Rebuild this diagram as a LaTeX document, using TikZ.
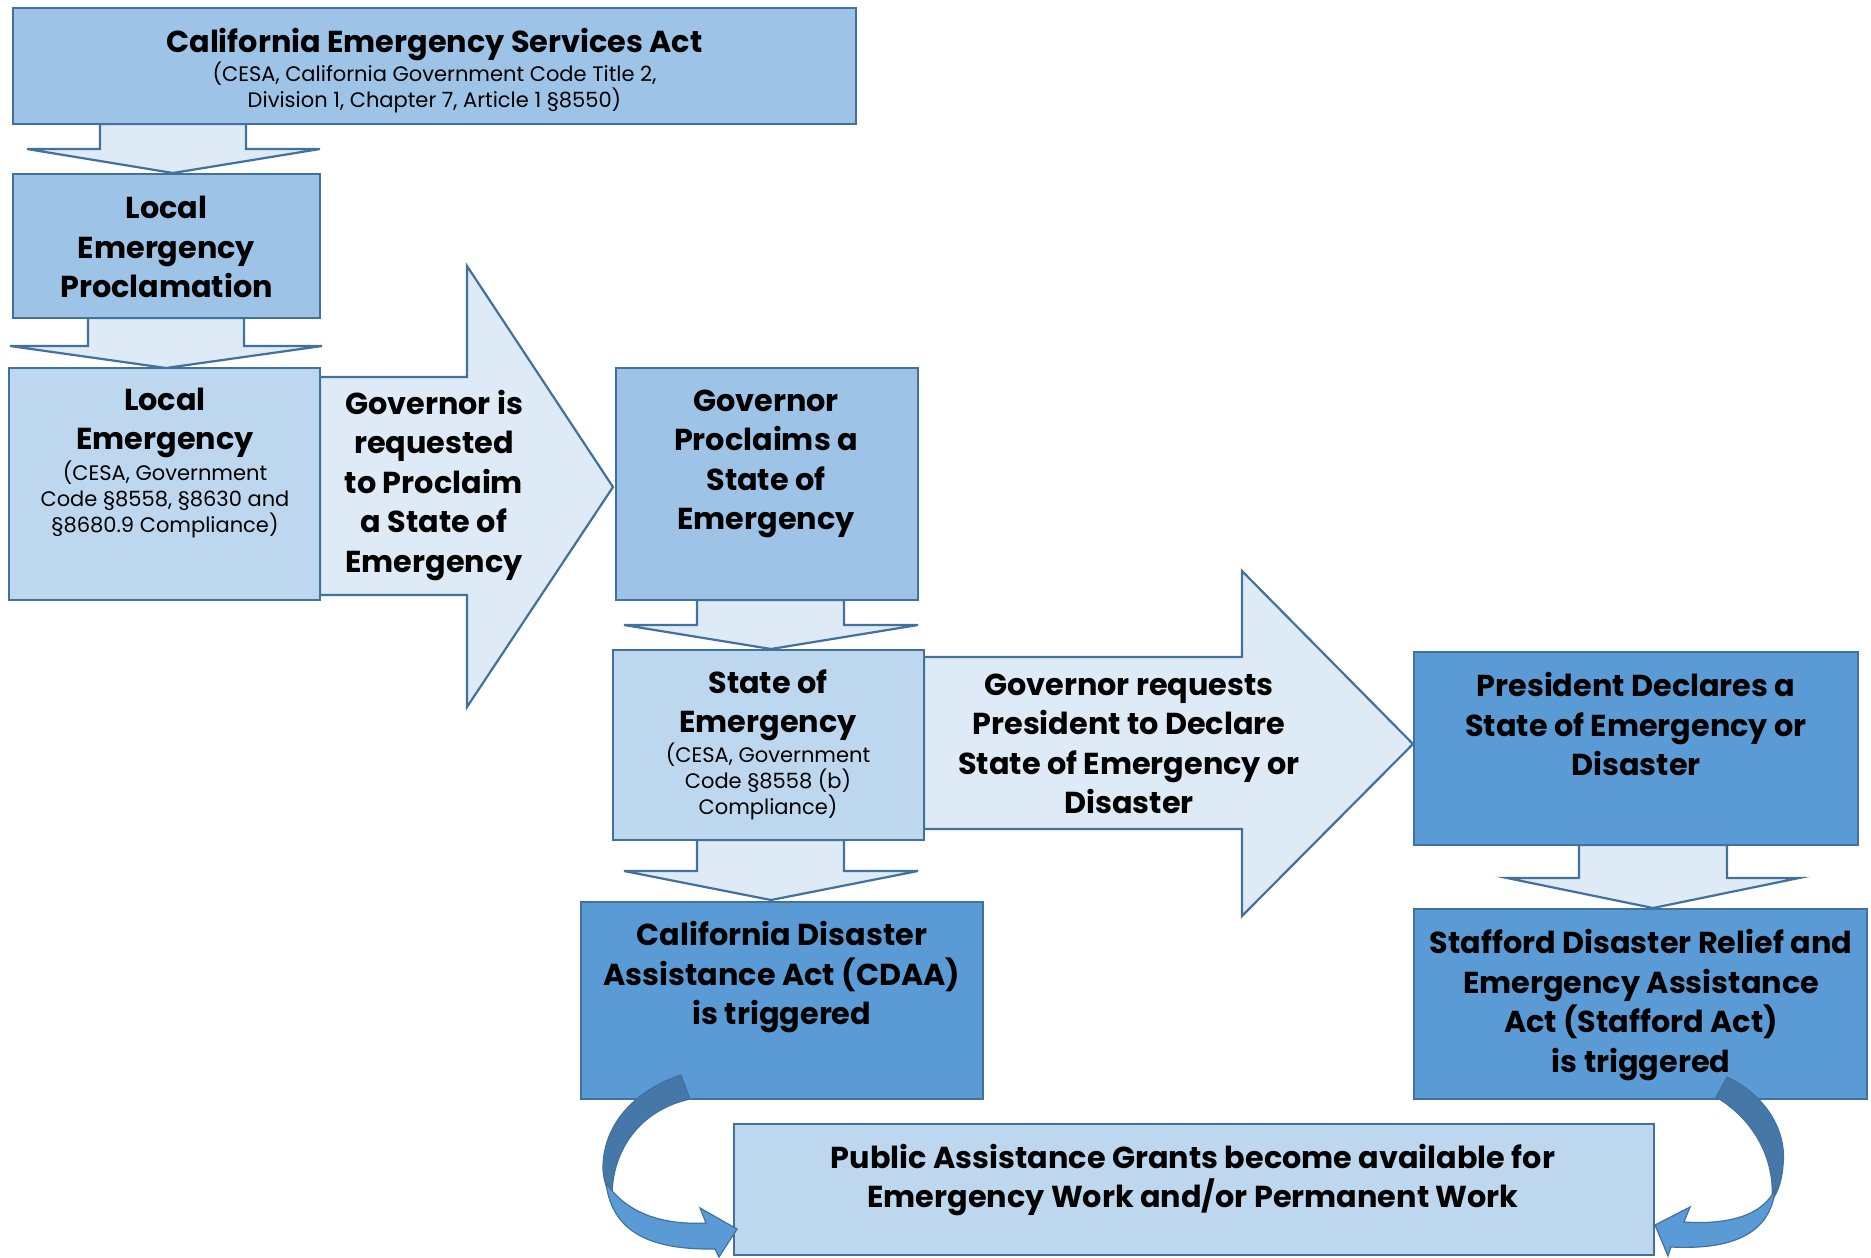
\documentclass[tikz,border=0pt]{standalone}
\usepackage{fontspec}
\setmainfont{Poppins}
\definecolor{bord}{HTML}{41719C}
\definecolor{boxA}{HTML}{9DC3E6}
\definecolor{boxB}{HTML}{BDD7EE}
\definecolor{boxC}{HTML}{5B9BD5}
\definecolor{arr}{HTML}{DEEBF7}
\definecolor{curvD}{HTML}{4677A9}
\definecolor{curvL}{HTML}{5B9BD5}
\tikzset{
  box/.style={draw=bord, line width=2.5pt, rectangle, inner sep=0pt},
  blk/.style={draw=bord, line width=2.2pt, fill=arr, line join=miter},
  curvback/.style={draw=bord, line width=1.2pt, fill=curvD, line join=round},
  curvfront/.style={draw=bord, line width=1.2pt, fill=curvL, line join=miter},
  bt/.style={font=\bfseries\fontsize{30.3}{39.5}\selectfont, align=center, inner sep=0pt},
  st/.style={font=\fontsize{21}{26}\selectfont, align=center, inner sep=0pt},
}
\begin{document}
\begin{tikzpicture}[x=1pt,y=-1pt]
\useasboundingbox[fill=white] (0,0) rectangle (1871,1258);
% block arrows
\draw[blk] (100,124) -- (100,149) -- (27,149) -- (173,173) -- (320,149) -- (246,149) -- (246,124) -- cycle;
\draw[blk] (88,318) -- (88,346) -- (10,346) -- (166,368) -- (322,346) -- (244,346) -- (244,318) -- cycle;
\draw[blk] (697,600) -- (697,625) -- (624,625) -- (771,649) -- (918,625) -- (844,625) -- (844,600) -- cycle;
\draw[blk] (697,840) -- (697,871) -- (624,871) -- (771,900) -- (918,871) -- (844,871) -- (844,840) -- cycle;
\draw[blk] (1579,845) -- (1579,878) -- (1507,878) -- (1653,908) -- (1799,878) -- (1727,878) -- (1727,845) -- cycle;
\draw[blk] (320,377) -- (467,377) -- (467,266) -- (613,487) -- (467,707) -- (467,595) -- (320,595) -- cycle;
\draw[blk] (924,657) -- (1242,657) -- (1242,571) -- (1413,744) -- (1242,916) -- (1242,829) -- (924,829) -- cycle;
% boxes
\node[box, fill=boxA, minimum width=843pt, minimum height=116pt] (cesa) at (434.5,66) {};
\node[box, fill=boxA, minimum width=307pt, minimum height=144pt] (lep) at (166.5,246) {};
\node[box, fill=boxB, minimum width=311pt, minimum height=232pt] (le) at (164.5,484) {};
\node[box, fill=boxA, minimum width=302pt, minimum height=232pt] (gps) at (767,484) {};
\node[box, fill=boxB, minimum width=311pt, minimum height=190pt] (soe) at (768.5,745) {};
\node[box, fill=boxC, minimum width=402pt, minimum height=197pt] (cdaa) at (782,1000.5) {};
\node[box, fill=boxC, minimum width=444pt, minimum height=193pt] (pres) at (1636,748.5) {};
\node[box, fill=boxC, minimum width=453pt, minimum height=190pt] (staf) at (1640.5,1004) {};
\node[box, fill=boxB, minimum width=920pt, minimum height=131pt] (pub) at (1194,1189.5) {};
% curved arrows
\draw[curvback] (681,1075) .. controls (635,1090) and (602,1125) .. (603,1170) .. controls (604,1182) and (607,1190) .. (612,1196) .. controls (612,1150) and (640,1110) .. (690,1099) -- cycle;
\draw[curvfront] (606,1183) .. controls (612,1232) and (650,1250) .. (715,1249) -- (719,1257) -- (737,1229) -- (700,1208) -- (706,1223) .. controls (665,1225) and (628,1215) .. (606,1183) -- cycle;
\draw[curvback] (1727,1077) .. controls (1765,1095) and (1787,1130) .. (1783,1165) .. controls (1782,1180) and (1778,1192) .. (1772,1200) .. controls (1775,1160) and (1755,1120) .. (1716,1097) -- cycle;
\draw[curvfront] (1775,1190) .. controls (1770,1235) and (1730,1250) .. (1671,1247) -- (1668,1256) -- (1655,1225) -- (1690,1207) -- (1684,1222) .. controls (1730,1225) and (1762,1215) .. (1775,1190) -- cycle;
% texts
\node[bt] (t1) at (434.5,44.5) {California Emergency Services Act};
\node[st] (t1s) at (434.5,87.2) {(CESA, California Government Code Title 2,\\Division 1, Chapter 7, Article 1 §8550)};
\node[bt] (t2) at (166.5,247) {Local\\Emergency\\Proclamation};
\node[bt] (t3) at (165,423) {Local\\Emergency};
\node[st] (t3s) at (165,499.2) {(CESA, Government\\Code §8558, §8630 and\\§8680.9 Compliance)};
\node[bt] (ta1) at (434,485.5) {Governor is\\requested\\to Proclaim\\a State of\\Emergency};
\node[bt] (t4) at (766,463.8) {Governor\\Proclaims a\\State of\\Emergency};
\node[bt] (t5) at (768,705.5) {State of\\Emergency};
\node[st] (t5s) at (768,781.7) {(CESA, Government\\Code §8558 (b)\\Compliance)};
\node[bt] (ta2) at (1129,744) {Governor requests\\President to Declare\\State of Emergency or\\Disaster};
\node[bt] (t7) at (1636,724) {President Declares a\\State of Emergency or\\Disaster};
\node[bt] (t6) at (782,977.5) {California Disaster\\Assistance Act (CDAA)\\is triggered};
\node[bt] (t8) at (1641,1005) {Stafford Disaster Relief and\\Emergency Assistance\\Act (Stafford Act)\\is triggered};
\node[bt] (t9) at (1193,1180) {Public Assistance Grants become available for\\Emergency Work and/or Permanent Work};
\end{tikzpicture}
\end{document}
